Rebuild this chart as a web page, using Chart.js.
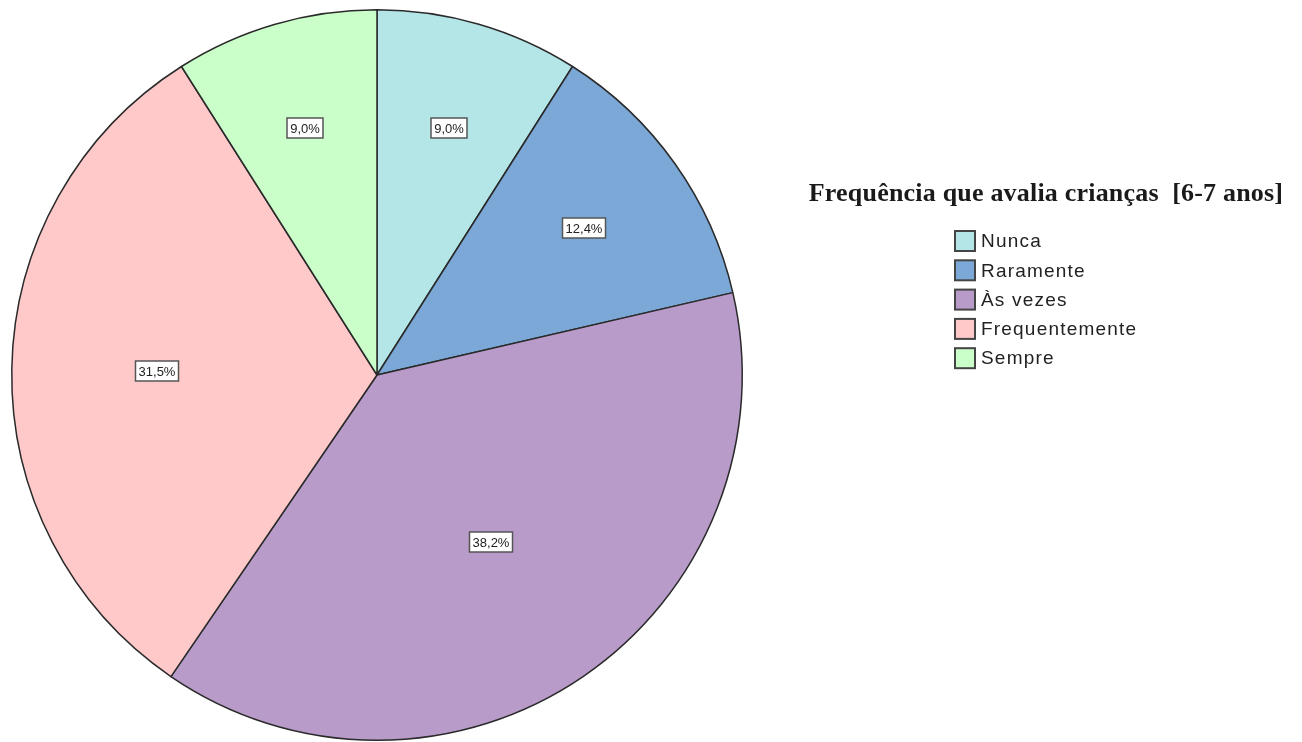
<!DOCTYPE html>
<html>
<head>
<meta charset="utf-8">
<title>Frequência que avalia crianças [6-7 anos]</title>
<script src="https://cdn.jsdelivr.net/npm/chart.js@4"></script>
<style>
  html, body { margin: 0; padding: 0; background: #fff; }
  canvas { display: block; }
</style>
</head>
<body>
<canvas id="pieChart" width="1302" height="742"></canvas>
<script>
const categories = ["Nunca", "Raramente", "Às vezes", "Frequentemente", "Sempre"];
const percentages = [9.0, 12.4, 38.2, 31.5, 9.0];
const sliceColors = ["#b4e6e8", "#7ba8d6", "#b89bc9", "#ffc9c9", "#caffca"];
const legendTitle = "Frequência que avalia crianças  [6-7 anos]";

// percentage boxes, placed near the centroid of each slice
const sliceLabels = {
  id: "sliceLabels",
  afterDatasetsDraw(chart) {
    const ctx = chart.ctx;
    const meta = chart.getDatasetMeta(0);
    ctx.save();
    ctx.font = "13px 'Liberation Sans', Arial, sans-serif";
    ctx.textAlign = "center";
    ctx.textBaseline = "middle";
    meta.data.forEach((arc, i) => {
      const half = (arc.endAngle - arc.startAngle) / 2;
      const mid = arc.startAngle + half;
      const dist = 1.07 * (2 / 3) * arc.outerRadius * Math.sin(half) / half;
      const x = Math.round(arc.x + Math.cos(mid) * dist);
      const y = Math.round(arc.y + Math.sin(mid) * dist);
      const text = percentages[i].toFixed(1).replace(".", ",") + "%";
      const w = Math.round(ctx.measureText(text).width + 6);
      const h = 20;
      ctx.fillStyle = "#fff";
      ctx.fillRect(x - w / 2, y - h / 2, w, h);
      ctx.strokeStyle = "#555";
      ctx.lineWidth = 1.5;
      ctx.strokeRect(x - w / 2, y - h / 2, w, h);
      ctx.fillStyle = "#222";
      ctx.fillText(text, x, y + 1);
    });
    ctx.restore();
  }
};

// title + colour keys on the right side
const sideLegend = {
  id: "sideLegend",
  afterDraw(chart) {
    const ctx = chart.ctx;
    const colors = chart.data.datasets[0].backgroundColor;
    ctx.save();
    ctx.fillStyle = "#1a1a1a";
    ctx.font = "bold 26px 'Liberation Serif', 'Times New Roman', serif";
    ctx.letterSpacing = "0.2px";
    ctx.textAlign = "center";
    ctx.textBaseline = "alphabetic";
    ctx.fillText(legendTitle, 1046, 201);

    ctx.font = "19px 'Liberation Sans', Arial, sans-serif";
    ctx.letterSpacing = "1.2px";
    ctx.textAlign = "left";
    ctx.textBaseline = "middle";
    chart.data.labels.forEach((label, i) => {
      const top = 231 + i * 29.3;
      ctx.fillStyle = colors[i];
      ctx.fillRect(955, top, 20, 20);
      ctx.strokeStyle = "#444";
      ctx.lineWidth = 2;
      ctx.strokeRect(955, top, 20, 20);
      ctx.fillStyle = "#222";
      ctx.fillText(label, 981, top + 11);
    });
    ctx.restore();
  }
};

const ctx = document.getElementById("pieChart").getContext("2d");
const pieChart = new Chart(ctx, {
  type: "pie",
  data: {
    labels: categories,
    datasets: [
      {
        data: percentages,
        backgroundColor: sliceColors,
        borderColor: "#2a2a2a",
        borderWidth: 1.5,
      },
    ],
  },
  options: {
    responsive: false,
    animation: false,
    layout: {
      padding: { left: 11, top: 9, right: 559, bottom: 1 },
    },
    plugins: {
      legend: { display: false },
      tooltip: { enabled: false },
    },
  },
  plugins: [sliceLabels, sideLegend],
});
</script>
</body>
</html>
